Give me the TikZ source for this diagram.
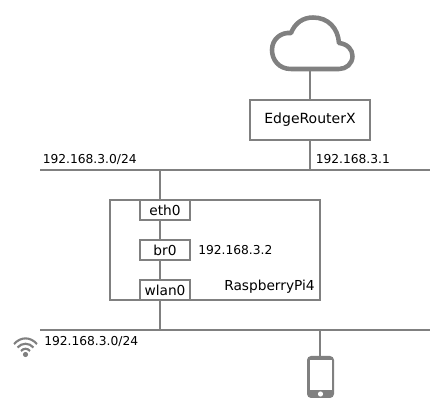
\documentclass[tikz,border=0pt]{standalone}
\usepackage{fontspec}
\setmainfont{DejaVu Sans}
\tikzset{
  wire/.style={draw=black!50,line width=1.1pt},
  frame/.style={draw=black!50,line width=0.9pt,fill=white},
  labelbox/.style={frame,minimum width=37.5pt,minimum height=15pt,inner sep=0pt,font=\fontsize{10.3}{12}\selectfont},
  lbl/.style={font=\fontsize{9.2}{11}\selectfont,inner sep=0pt,anchor=west},
}
\begin{document}
\begin{tikzpicture}[x=0.75pt,y=-0.75pt]
\useasboundingbox (0,0) rectangle (440,420);
% cloud
\coordinate (cloudbot) at (310,69);
\draw[draw=black!50,line width=3.4pt,fill=white,line join=round]
  (291,69) .. controls (279,69) and (272,60) .. (272,50)
  .. controls (272,39) and (281,32) .. (291,33)
  .. controls (295,23) and (303,17.5) .. (313,17.5)
  .. controls (328,17.5) and (338,28) .. (339,43)
  .. controls (348,44) and (352.5,50) .. (352.5,56)
  .. controls (352.5,64) and (346,69) .. (339,69) -- cycle;
\node[frame,minimum width=90pt,minimum height=30pt,inner sep=0pt,font=\fontsize{10.5}{12}\selectfont] (er) at (310,120) {EdgeRouterX};
\coordinate (lanA) at (40,170);
\coordinate (lanB) at (430,170);
\coordinate (erdrop) at (310,170);
\coordinate (pidrop) at (160,170);
\coordinate (wlA) at (40,330);
\coordinate (wlB) at (430,330);
\coordinate (wldrop) at (160,330);
\coordinate (phdrop) at (320,330);
\draw[wire] (cloudbot) -- (er.north);
\draw[wire] (er.south) -- (erdrop);
\draw[wire] (lanA) -- (lanB);
\draw[wire] (wlA) -- (wlB);
\node[frame,minimum width=157.5pt,minimum height=75pt,inner sep=0pt] (pi) at (215,250) {};
\node[labelbox] (eth) at (165,210) {eth0};
\node[labelbox] (br) at (165,250) {br0};
\node[labelbox] (wlan) at (165,290) {wlan0};
\draw[wire] (pidrop) -- (pidrop |- eth.north);
\draw[wire] (eth.south -| pidrop) -- (br.north -| pidrop);
\draw[wire] (br.south -| pidrop) -- (wlan.north -| pidrop);
\draw[wire] (wlan.south -| pidrop) -- (wldrop);
% phone
\fill[black!50,rounded corners=3pt] (307,356) rectangle (334,398);
\fill[white] (310,360) rectangle (332,390);
\fill[white] (320.5,394) circle (2.6);
\node[inner sep=0pt,minimum size=0pt] (phone) at (320,357) {};
\draw[wire] (phdrop) -- (phone);
% wifi
\begin{scope}[draw=black!50,line width=1.6pt]
\fill[black!50] (25.5,354.5) circle (2.6);
\draw (14,344) .. controls (21,336.5) and (30,336.5) .. (37,344);
\draw (17.5,347.5) .. controls (22,342.5) and (29,342.5) .. (33.5,347.5);
\draw (21,351) .. controls (23.5,348) and (27.5,348) .. (30,351);
\end{scope}
\node[lbl] (t1) at (42.5,160) {192.168.3.0/24};
\node[lbl] (t2) at (315.5,159) {192.168.3.1};
\node[lbl] (t3) at (198,250) {192.168.3.2};
\node[lbl,font=\fontsize{10.3}{12}\selectfont] (t4) at (224,287) {RaspberryPi4};
\node[lbl] (t5) at (44,342) {192.168.3.0/24};
\end{tikzpicture}
\end{document}
